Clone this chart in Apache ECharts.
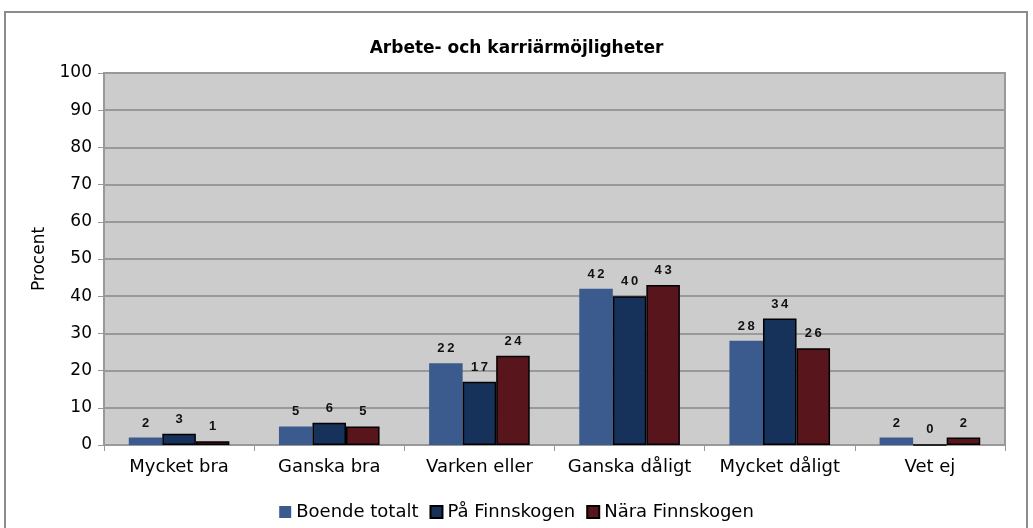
<!DOCTYPE html>
<html>
<head>
<meta charset="utf-8">
<script src="https://cdn.jsdelivr.net/npm/echarts@6/dist/echarts.min.js"></script>
<style>
  html, body { margin: 0; padding: 0; background: #fff; }
  #chart { width: 1033px; height: 528px; }
</style>
</head>
<body>
<div id="chart"></div>
<script>
const categories = ['Mycket bra', 'Ganska bra', 'Varken eller', 'Ganska dåligt', 'Mycket dåligt', 'Vet ej'];
const boendeTotalt = [2, 5, 22, 42, 28, 2];
const paFinnskogen = [3, 6, 17, 40, 34, 0];
const naraFinnskogen = [1, 5, 24, 43, 26, 2];
const yTicks = [0, 10, 20, 30, 40, 50, 60, 70, 80, 90, 100];

const font = 'Verdana, "DejaVu Sans", sans-serif';

// labels in the original are letter-spaced, approximate with a thin space
const label = {
  show: true,
  position: 'top',
  distance: 8,
  color: '#111',
  fontFamily: 'Arial, "Liberation Sans", sans-serif',
  fontWeight: 'bold',
  fontSize: 13,
  formatter: p => String(p.value).split('').join('\u2009')
};

const makeSeries = (name, data, color, bordered) => ({
  name,
  type: 'bar',
  data,
  barGap: '0%',
  barCategoryGap: '33%',
  itemStyle: {
    color,
    borderColor: bordered ? '#000' : color,
    borderWidth: bordered ? 1.5 : 0
  },
  label
});

const chart = echarts.init(document.getElementById('chart'));
chart.setOption({
  animation: false,
  backgroundColor: '#fff',
  title: {
    text: 'Arbete- och karriärmöjligheter',
    left: 'center',
    top: 35,
    textStyle: { fontFamily: font, fontWeight: 'bold', fontSize: 17, color: '#000' }
  },
  graphic: [{
    type: 'rect',
    shape: { x: 5, y: 12, width: 1022, height: 530 },
    style: { fill: 'none', stroke: '#8c8c8c', lineWidth: 2 },
    silent: true
  }],
  legend: {
    bottom: 2,
    left: 'center',
    itemWidth: 12,
    itemHeight: 12,
    itemGap: 11,
    icon: 'rect',
    textStyle: { fontFamily: font, fontSize: 18, color: '#000' },
    data: ['Boende totalt', 'På Finnskogen', 'Nära Finnskogen']
  },
  grid: {
    left: 104,
    right: 28,
    top: 73,
    bottom: 83,
    show: true,
    backgroundColor: '#cccccc',
    borderColor: '#999999',
    borderWidth: 2
  },
  xAxis: {
    type: 'category',
    data: categories,
    axisLine: { lineStyle: { color: '#999999', width: 2 } },
    axisTick: { show: true, interval: 0, length: 6, lineStyle: { color: '#999999' } },
    axisLabel: { interval: 0, fontFamily: font, fontSize: 18, color: '#000', margin: 13 }
  },
  yAxis: {
    type: 'value',
    min: yTicks[0],
    max: yTicks[yTicks.length - 1],
    interval: 10,
    name: 'Procent',
    nameLocation: 'middle',
    nameGap: 56,
    nameTextStyle: { fontFamily: font, fontSize: 17, color: '#000' },
    axisLine: { show: true, lineStyle: { color: '#999999', width: 2 } },
    axisTick: { show: true, length: 6, lineStyle: { color: '#999999' } },
    axisLabel: { fontFamily: font, fontSize: 17, color: '#000', margin: 12 },
    splitLine: { lineStyle: { color: '#999999', width: 2 } }
  },
  series: [
    makeSeries('Boende totalt', boendeTotalt, '#3b5a8e', false),
    makeSeries('På Finnskogen', paFinnskogen, '#17325a', true),
    makeSeries('Nära Finnskogen', naraFinnskogen, '#58161c', true)
  ]
});
</script>
</body>
</html>
